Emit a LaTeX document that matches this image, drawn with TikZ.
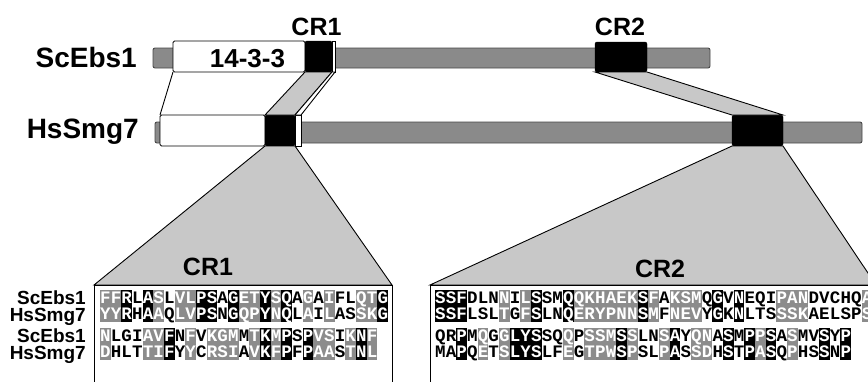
\documentclass[tikz,border=0pt]{standalone}
\usepackage{fontspec}
\setmainfont{Liberation Sans}
\newfontfamily\resfont{Liberation Mono}
\usepackage{xcolor}
\usepackage{tikz}
\usetikzlibrary{positioning}
\definecolor{bargray}{HTML}{8A8A8A}
\definecolor{edgegray}{HTML}{484848}
\definecolor{bandgray}{HTML}{C8C8C8}
\definecolor{simgray}{HTML}{8C8C8C}
\colorlet{cellk}{black}
\colorlet{cellg}{simgray}
\colorlet{cellw}{white}
\colorlet{txtk}{white}
\colorlet{txtg}{white}
\colorlet{txtw}{black}
\tikzset{
  protbar/.style={draw=edgegray,fill=bargray,rounded corners=2pt,
    inner sep=0pt,outer sep=0pt,line width=0.9pt},
  dombox/.style={draw=black,fill=white,rounded corners=1.5pt,
    inner sep=0pt,outer sep=0pt,line width=0.9pt},
  crbox/.style={draw=black,fill=black,rounded corners=2pt,
    inner sep=0pt,outer sep=0pt},
  band/.style={draw=black,fill=bandgray,line width=0.9pt},
  alnbox/.style={draw=black,fill=white,line width=0.9pt},
  protname/.style={font=\bfseries\fontsize{28}{28}\selectfont,anchor=base east,inner sep=0pt},
  crlabel/.style={font=\bfseries\fontsize{25}{25}\selectfont,anchor=base,inner sep=0pt},
  rowname/.style={font=\bfseries\fontsize{19}{17}\selectfont,align=right,anchor=base east,inner sep=0pt},
  res/.style={font=\resfont\bfseries\fontsize{17.5}{17.5}\selectfont,anchor=base,inner sep=0pt}
}
% one pair of aligned rows: name, left x, top y, list top/bottom/shade
\newcommand{\alnrows}[4]{%
  \foreach \ra/\rb/\s [count=\i from 0] in {#4} {
    \fill[cell\s] ({#2+\i*10.67},#3) rectangle +(10.67,32);
    \node[res,text=txt\s] (#1a\i) at ({#2+(\i+0.5)*10.67},{#3+13.5}) {\ra};
    \node[res,text=txt\s] (#1b\i) at ({#2+(\i+0.5)*10.67},{#3+29.5}) {\rb};
  }}

\begin{document}
\begin{tikzpicture}[x=1pt,y=-1pt]
\useasboundingbox (0,0) rectangle (868,381);
\clip (0,0) rectangle (868,381);

% domain maps
\node[protbar,minimum width=557pt,minimum height=20pt,anchor=west] (ebar) at (153,58) {};
\node[dombox,minimum width=132pt,minimum height=31pt] (edom) at (239,56.5) {};
\node[crbox,minimum width=27pt,minimum height=31pt] (ecr1) at (318.5,56.5) {};
\node[dombox,minimum width=3pt,minimum height=31pt,rounded corners=0pt] (esliv) at (333.5,56.5) {};
\node[crbox,minimum width=52pt,minimum height=30pt] (ecr2) at (621,57) {};

\node[protbar,minimum width=707pt,minimum height=21pt,anchor=west] (hbar) at (155,132.5) {};
\node[dombox,minimum width=105pt,minimum height=31pt] (hdom) at (212.5,130.5) {};
\node[crbox,minimum width=30pt,minimum height=31pt] (hcr1) at (280,130.5) {};
\node[dombox,minimum width=6pt,minimum height=31pt,rounded corners=0pt] (hsliv) at (298,130.5) {};
\node[crbox,minimum width=51pt,minimum height=31pt] (hcr2) at (757.5,130.5) {};

\node[protname] (ename) at (137,67) {ScEbs1};
\node[protname] (hname) at (139,138) {HsSmg7};
\node[crlabel,font=\bfseries\fontsize{26}{26}\selectfont] (dlab) at (247.5,67) {14-3-3};
\node[crlabel] (cr1top) at (316.5,35) {CR1};
\node[crlabel] (cr2top) at (620,35) {CR2};

% links between the two proteins
\draw[line width=0.9pt] (edom.south west) -- (hdom.north west);
\draw[band] (ecr1.south west) -- (ecr1.south east) -- (hcr1.north east) -- (hcr1.north west) -- cycle;
\draw[band,fill=white] (esliv.south west) -- (esliv.south east) -- (hsliv.north east) -- (hsliv.north west) -- cycle;
\draw[band] (ecr2.south west) -- (ecr2.south east) -- (hcr2.north east) -- (hcr2.north west) -- cycle;

% zoom onto the alignments
\coordinate (a1nw) at (94,285);
\coordinate (a1ne) at (392,285);
\coordinate (a2nw) at (430,285);
\coordinate (a2ne) at (876,285);
\draw[band] (hcr1.south west) -- (a1nw) -- (a1ne) -- (hcr1.south east) -- cycle;
\draw[band] (hcr2.south west) -- (a2nw) -- (a2ne) -- (hcr2.south east) -- cycle;
\draw[alnbox] (a1nw) rectangle (392,400);
\draw[alnbox] (a2nw) rectangle (900,400);
\node[crlabel] (cr1low) at (208,275) {CR1};
\node[crlabel] (cr2low) at (660,277) {CR2};

\alnrows{p}{100}{290}{F/Y/g,F/Y/g,R/R/k,L/H/w,A/A/k,S/A/g,L/Q/w,V/L/g,L/V/g,P/P/k,S/S/k,A/N/w,G/G/k,E/Q/g,T/P/g,Y/Y/k,S/N/g,Q/Q/k,A/L/w,G/A/g,A/I/w,I/L/g,F/A/w,L/S/w,Q/S/g,T/K/g,G/G/k}
\alnrows{q}{100}{328}{N/D/g,L/H/w,G/L/w,I/T/w,A/T/g,V/I/g,F/F/k,N/Y/w,F/Y/g,V/C/w,K/R/g,G/S/g,M/I/g,M/A/w,T/V/g,K/K/k,M/F/g,P/P/k,S/F/w,P/P/k,V/A/g,S/A/g,I/S/w,K/T/g,N/N/k,F/L/g}
\alnrows{u}{435}{290}{S/S/k,S/S/k,F/F/k,D/L/w,L/S/w,N/L/w,N/T/g,I/G/w,L/F/g,S/S/k,S/L/w,M/N/w,Q/Q/k,Q/E/g,K/R/g,H/Y/g,A/P/g,E/N/g,K/N/g,S/S/k,F/M/g,A/F/w,K/N/g,S/E/g,M/V/g,Q/Y/w,G/G/k,V/K/w,N/N/k,E/L/w,Q/T/w,I/S/w,P/S/g,A/S/g,N/K/g,D/A/w,V/E/w,C/L/w,H/S/w,Q/P/w,A/S/g}
\alnrows{v}{435}{328}{Q/M/w,R/A/w,P/P/k,M/Q/w,Q/E/g,G/T/w,G/S/g,L/L/k,Y/Y/k,S/S/k,S/L/w,Q/F/w,Q/E/g,P/G/w,S/T/g,S/P/g,M/W/g,S/S/k,S/P/g,L/S/w,N/L/w,S/P/g,A/A/k,Y/S/w,Q/S/g,N/D/g,A/H/w,S/S/k,M/T/w,P/P/k,P/A/g,S/S/k,A/Q/w,S/P/g,M/H/w,V/S/w,S/S/k,Y/N/w,P/P/k}

\node[rowname] (rows1) at (86,321) {ScEbs1\\HsSmg7};
\node[rowname] (rows2) at (86,359) {ScEbs1\\HsSmg7};
\end{tikzpicture}
\end{document}
